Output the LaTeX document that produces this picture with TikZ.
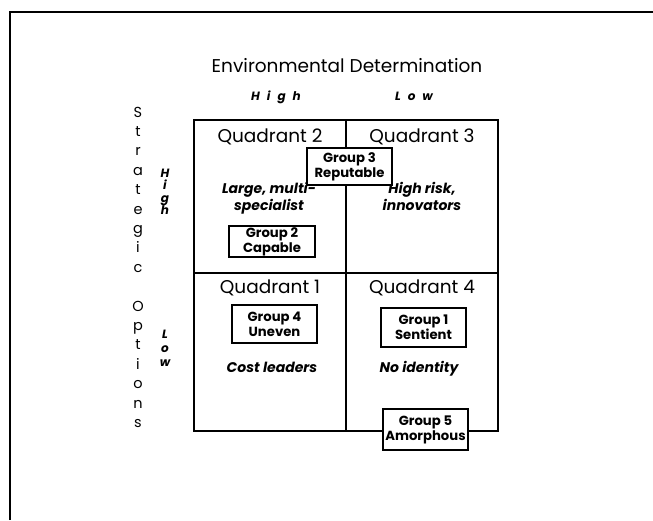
\documentclass[tikz,border=0pt]{standalone}
\usepackage{fontspec}
\setmainfont{Poppins}
\begin{document}
\begin{tikzpicture}[x=1pt,y=-1pt,
  grp/.style={draw,line width=1.3pt,fill=white,minimum width=85pt,inner sep=0pt,align=center,font=\fontsize{13.2}{15}\selectfont\bfseries},
  quad/.style={font=\fontsize{18.5}{20}\selectfont,anchor=base},
  desc/.style={font=\fontsize{14}{14}\selectfont\bfseries\itshape,align=center,anchor=base},
  vlet/.style={font=\fontsize{14.5}{14}\selectfont,anchor=base},
  hl/.style={font=\fontsize{12}{12}\selectfont\bfseries\itshape,anchor=base},
  title/.style={font=\fontsize{18.5}{20}\selectfont,anchor=base}]
\useasboundingbox (0,0) rectangle (653,520);
% frame
\draw[line width=1.5pt] (10,520) -- (10,12) -- (653,12);
% grid
\draw[line width=2.4pt] (194,120) rectangle (498,431);
\draw[line width=2.4pt] (346,120) -- (346,431);
\draw[line width=2.4pt] (194,273) -- (498,273);
% titles
\node[title] (envt) at (347,72) {Environmental Determination};
\node[hl] (hh) at (276,100) {H\hspace{7pt}i\hspace{7pt}g\hspace{7pt}h};
\node[hl] (hl) at (414,100) {L\hspace{7pt}o\hspace{7pt}w};
% vertical Strategic Options
\foreach \c [count=\i from 0] in {S,t,r,a,t,e,g,i,c}
  \node[vlet] (sa\i) at (138,117+19.4*\i) {\c};
\foreach \c [count=\i from 0] in {O,p,t,i,o,n,s}
  \node[vlet] (sb\i) at (138,311+19.4*\i) {\c};
% vertical High / Low
\foreach \c [count=\i from 0] in {H,i,g,h}
  \node[hl] (vh\i) at (165,177+12.5*\i) {\c};
\foreach \c [count=\i from 0] in {L,o,w}
  \node[hl] (vl\i) at (165,338+14*\i) {\c};
% quadrant labels
\node[quad] (q2) at (270,142) {Quadrant 2};
\node[quad] (q3) at (422,142) {Quadrant 3};
\node[quad] (q1) at (270,293) {Quadrant 1};
\node[quad] (q4) at (422,293) {Quadrant 4};
% descriptions
\node[desc] (d2) at (269,210) {Large, multi-\\specialist};
\node[desc] (d3) at (422,210) {High risk,\\innovators};
\node[desc] (d1) at (272,372) {Cost leaders};
\node[desc] (d4) at (419,372) {No identity};
% group boxes
\node[grp,minimum height=37pt] (g3) at (349.5,166.5) {Group 3\\Reputable};
\node[grp,minimum height=31pt,minimum width=86pt] (g2) at (272,241.5) {Group 2\\Capable};
\node[grp,minimum height=38pt] (g4) at (274.5,324) {Group 4\\Uneven};
\node[grp,minimum height=39pt] (g1) at (423.5,327.5) {Group 1\\Sentient};
\node[grp,minimum height=41pt] (g5) at (425.5,429.5) {Group 5\\Amorphous};
\end{tikzpicture}
\end{document}
